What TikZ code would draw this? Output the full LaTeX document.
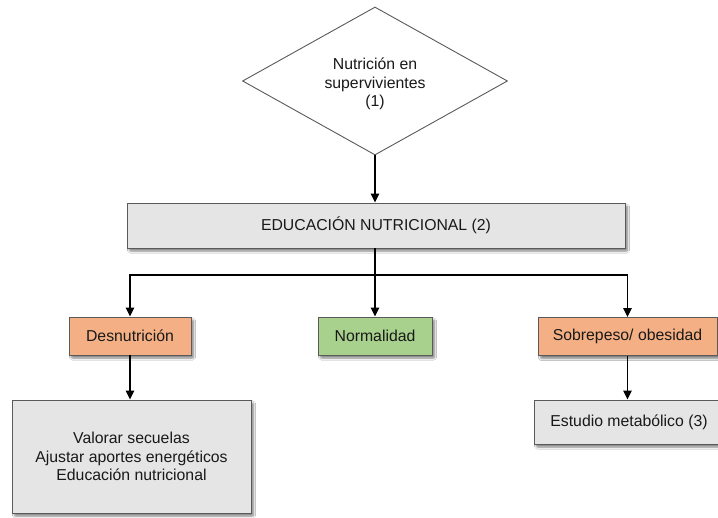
\documentclass[tikz,border=0pt]{standalone}
\usepackage{fontspec}
\setmainfont{Liberation Sans}
\usetikzlibrary{shapes.geometric,arrows.meta,shadows.blur}
\definecolor{boxgray}{HTML}{E6E5E6}
\definecolor{boxorange}{HTML}{F4B084}
\definecolor{boxgreen}{HTML}{A9D18E}
\definecolor{edgegray}{HTML}{5A5A5A}
\tikzset{
  base/.style={draw=edgegray, line width=0.9pt, inner sep=0pt, align=center,
    font=\fontsize{15.8}{18.5}\selectfont, text=black!90,
    blur shadow={shadow xshift=2.5pt, shadow yshift=-3pt, shadow blur steps=6, shadow blur extra rounding=1pt, shadow opacity=50}},
  graybox/.style={base, fill=boxgray},
  orangebox/.style={base, fill=boxorange},
  greenbox/.style={base, fill=boxgreen},
  decision/.style={draw=edgegray, line width=0.9pt, fill=white, shape=diamond, aspect=1.79,
    minimum width=265pt, minimum height=148pt, inner sep=0pt},
  label/.style={align=center, inner sep=0pt, font=\fontsize{15.8}{18.5}\selectfont, text=black!90},
  arr/.style={draw=black, line width=1.3pt, -{Triangle[width=8.5pt,length=9pt]}}
}
\begin{document}
\begin{tikzpicture}[x=1pt,y=-1pt]
\useasboundingbox[fill=white] (0,0) rectangle (718,518);
\node[decision] (dia) at (375,81) {};
\node[label] (diatext) at (375,84) {Nutrición en\\supervivientes\\(1)};
\node[graybox, minimum width=498pt, minimum height=45pt] (edu) at (376,225.5) {EDUCACIÓN NUTRICIONAL (2)};
\node[orangebox, minimum width=122pt, minimum height=38pt] (des) at (130,336) {Desnutrición};
\node[greenbox, minimum width=114pt, minimum height=38pt] (norm) at (375,336) {Normalidad};
\node[orangebox, minimum width=179pt, minimum height=38pt] (sob) at (627.5,336.5) {Sobrepeso/ obesidad};
\node[graybox, minimum width=239pt, minimum height=113pt] (val) at (131.5,456.5) {Valorar secuelas\\Ajustar aportes energéticos\\Educación nutricional};
\node[graybox, minimum width=190pt, minimum height=44pt] (est) at (629,422) {Estudio metabólico (3)};
\coordinate (j) at (375,275);
\draw[arr] (dia.south) -- (dia.south |- edu.north);
\draw[arr] (edu.south -| norm.north) -- (norm.north);
\draw[arr] (j) -| (des.north);
\draw[arr] (j) -| (sob.north);
\draw[arr] (des.south) -- (des.south |- val.north);
\draw[arr] (sob.south) -- (sob.south |- est.north);
\end{tikzpicture}
\end{document}
